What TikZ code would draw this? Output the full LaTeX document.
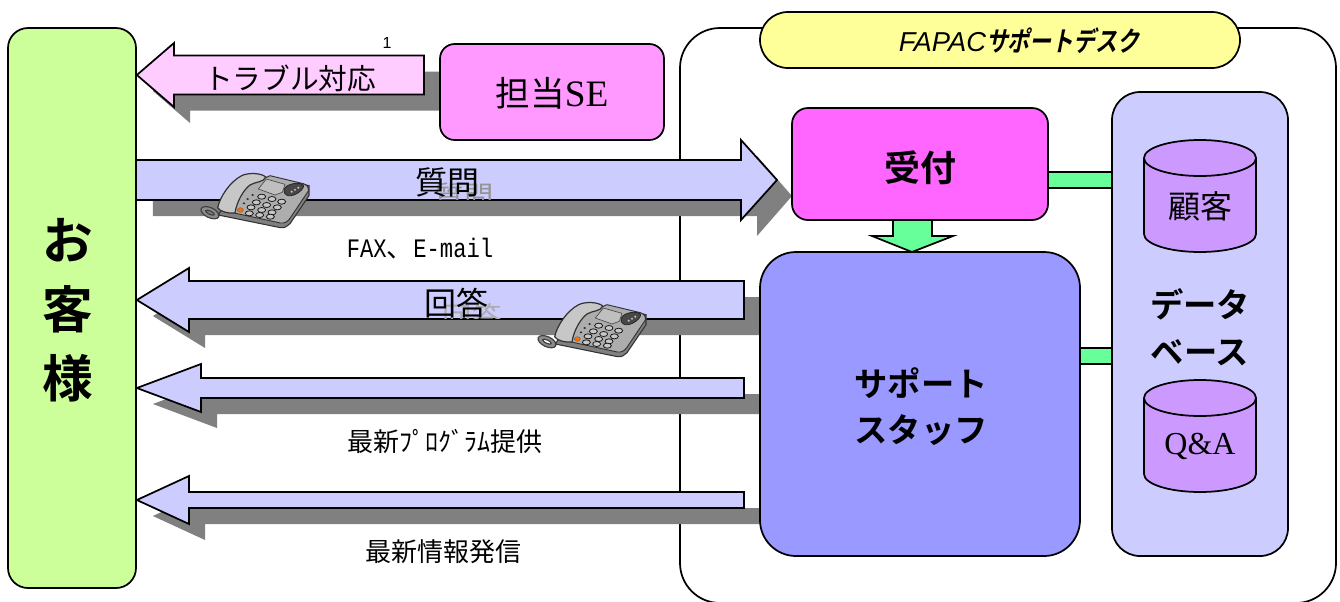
\documentclass[tikz,border=0pt]{standalone}
\usepackage{fontspec}
\usetikzlibrary{backgrounds}
\setmainfont{Liberation Serif}
\newfontfamily\jp{Noto Sans CJK JP}
\newfontfamily\jpb{Noto Sans CJK JP Bold}
\newfontfamily\jpbn[FakeStretch=0.8,FakeSlant=0.2]{Noto Sans CJK JP Bold}
\newfontfamily\hsans{Liberation Sans}
\newfontfamily\nmono[FakeStretch=0.83]{Liberation Mono}
\definecolor{shadowgray}{HTML}{808080}
\definecolor{custgreen}{HTML}{CCFF99}
\definecolor{sepink}{HTML}{FF99FF}
\definecolor{palepink}{HTML}{FFCCFF}
\definecolor{recpink}{HTML}{FF66FF}
\definecolor{lilac}{HTML}{CCCCFF}
\definecolor{staffblue}{HTML}{9999FF}
\definecolor{cylpurple}{HTML}{CC99FF}
\definecolor{bargreen}{HTML}{66FF99}
\definecolor{titleyellow}{HTML}{FFFF99}
\tikzset{
  box/.style={draw=black,line width=1.3pt,inner sep=0pt,align=center},
  blockline/.style={draw=black,line width=1.3pt,line join=miter},
  link/.style={draw=black,line width=1.2pt,double=bargreen,double distance=10.8pt},
  lab/.style={inner sep=0pt,align=center},
  phone/.pic={
    \begin{scope}[x=.25pt,y=-.25pt]
      % cord loop
      \draw[draw=black!75,fill=black!45,line width=.9pt,even odd rule,rotate around={-25:(45,143)}] (45,143) ellipse (29 and 15) (45,143) ellipse (14 and 5);
      % body
      \draw[draw=black!80,fill=black!50,line width=.8pt] (70,150) -- (256,188) .. controls (268,190) and (278,184) .. (285,176) -- (342,92) -- (342,62) -- (225,35) -- (120,70) -- cycle;
      \draw[draw=black!80,fill=black!32,line width=.7pt] (90,138) -- (256,174) .. controls (268,176) and (278,170) .. (285,160) -- (340,78) .. controls (342,66) and (335,60) .. (325,56) -- (225,32) -- (130,75) -- cycle;
      % handset
      \draw[draw=black!80,fill=black!22,line width=.9pt] (68,128) .. controls (75,95) and (105,50) .. (140,32) .. controls (160,22) and (200,24) .. (212,36) .. controls (208,52) and (180,50) .. (165,60) .. controls (145,75) and (125,110) .. (120,144) .. controls (100,146) and (75,140) .. (68,128) -- cycle;
      % dial panel
      \draw[draw=black!70,fill=black!25,line width=.5pt] (190,72) -- (214,42) -- (270,58) -- (262,82) -- (240,90) -- cycle;
      % speaker
      \draw[draw=black!85,fill=black!72,line width=.6pt] (268,72) .. controls (275,55) and (315,50) .. (325,60) .. controls (330,72) and (300,95) .. (280,92) .. controls (270,90) and (265,82) .. (268,72) -- cycle;
      \foreach \sx/\sy in {290/80,300/74,310/68}{\fill[black!25] (\sx,\sy) circle (3.5);}
      % keys
      \foreach \kx/\ky in {200/95,231/102,260/110,
                           184/112,215/120,247/127,
                           168/127,200/135,231/142,
                           163/145,194/150,226/155}{
        \draw[draw=black!90,fill=black!22,line width=.6pt] (\kx,\ky) ellipse (12 and 7.5);}
      \foreach \dx/\dy in {173/90,158/102,147/115}{\fill[black!85] (\dx,\dy) ellipse (4 and 3);}
      \draw[draw=black!60,fill=orange!85!red,line width=.3pt] (136,135) ellipse (9 and 7);
    \end{scope}
  }
}
\newcommand{\blockleft}[8]{% tip name, y, head base x, head half, shaft half, tail x, fill, shadow tail x
  \coordinate (#1) at (customer.east |- 0,#2);
  \fill[shadowgray] ([shift={(16,16)}]#1) -- ({#3+16},{#2-#4+16}) -- ({#3+16},{#2-#5+16}) -- (#8,{#2-#5+16}) -- (#8,{#2+#5+16}) -- ({#3+16},{#2+#5+16}) -- ({#3+16},{#2+#4+16}) -- cycle;
  \path[blockline,fill=#7] (#1) -- (#3,{#2-#4}) -- (#3,{#2-#5}) -- (#6,{#2-#5}) -- (#6,{#2+#5}) -- (#3,{#2+#5}) -- (#3,{#2+#4}) -- cycle;
}
\begin{document}
\begin{tikzpicture}[x=.75pt,y=-.75pt]
\useasboundingbox (0,0) rectangle (1340,601);
% main boxes
\node[box,fill=custgreen,rounded corners=15pt,minimum width=96pt,minimum height=420pt] (customer) at (72,308) {};
\node[lab,font=\fontsize{38pt}{42pt}\selectfont\jpb] (custa) at (68,240) {お};
\node[lab,font=\fontsize{38pt}{42pt}\selectfont\jpb] (custb) at (68,309) {客};
\node[lab,font=\fontsize{38pt}{42pt}\selectfont\jpb] (custc) at (68,378) {様};
\node[box,fill=sepink,rounded corners=11pt,minimum width=168pt,minimum height=72pt] (se) at (552,92) {};
\node[lab] (setext) at (552,93) {\fontsize{26pt}{30pt}\selectfont{\jp 担当}\fontsize{28pt}{30pt}\selectfont SE};
\node[box,fill=titleyellow,rounded corners=21pt,minimum width=360pt,minimum height=42pt] (title) at (1000,40) {};
\node[lab] (titletext) at (1019,41) {\fontsize{20.5pt}{24pt}\selectfont\hsans\itshape FAPAC{\jpbn サポートデスク}};
\node[box,fill=recpink,rounded corners=12pt,minimum width=192pt,minimum height=84pt] (reception) at (920,164) {};
\node[lab,font=\fontsize{27pt}{30pt}\selectfont\jpb] (rectext) at (920,168) {受付};
\node[box,fill=staffblue,rounded corners=27pt,minimum width=240pt,minimum height=228pt] (staff) at (920,404) {};
\node[lab,font=\fontsize{25pt}{34.5pt}\selectfont\jpb] (stafftext) at (921,407) {サポート\\スタッフ};
\node[box,fill=lilac,rounded corners=21pt,minimum width=132pt,minimum height=348pt] (db) at (1200,324) {};
\node[lab,font=\fontsize{25pt}{35pt}\selectfont\jpb] (dbtext) at (1200,327) {データ\\ベース};
% cylinders
\foreach \cname/\ctop/\clab in {cylcust/140/{\jp 顧客},cylqa/380/{Q\&A}}{
  \draw[line width=1.3pt,fill=cylpurple] (1144,{\ctop+18}) -- (1144,{\ctop+94}) .. controls (1144,{\ctop+104}) and (1169,{\ctop+112}) .. (1200,{\ctop+112}) .. controls (1231,{\ctop+112}) and (1256,{\ctop+104}) .. (1256,{\ctop+94}) -- (1256,{\ctop+18}) .. controls (1256,{\ctop+8}) and (1231,\ctop) .. (1200,\ctop) .. controls (1169,\ctop) and (1144,{\ctop+8}) .. (1144,{\ctop+18}) -- cycle;
  \draw[line width=1.3pt] (1144,{\ctop+18}) .. controls (1144,{\ctop+28}) and (1169,{\ctop+36}) .. (1200,{\ctop+36}) .. controls (1231,{\ctop+36}) and (1256,{\ctop+28}) .. (1256,{\ctop+18});
  \node[lab] (\cname) at (1200,{\ctop+66}) {\fontsize{24pt}{28pt}\selectfont \clab};
}
% down arrow
\draw[blockline,fill=bargreen] (912,252) -- (872,236) -- (893,236) -- (893,220) -- (932,220) -- (932,236) -- (953,236) -- cycle;
% background content
\begin{scope}[on background layer]
  \coordinate (barA) at (1080,180);
  \coordinate (barB) at (1080,356);
  \path[draw=black,line width=1.3pt,fill=white,rounded corners=30pt] (680,603) -- (680,28) -- (1336,28) -- (1336,603) -- cycle;
  \draw[link] (reception.east |- barA) -- (db.west |- barA);
  \draw[link] (staff.east |- barB) -- (db.west |- barB);
  \blockleft{ta}{75}{174}{32}{19.5}{424}{palepink}{450}
  % question arrow
  \coordinate (qs) at (customer.east |- 0,180);
  \fill[shadowgray] ([shift={(16,-4)}]qs) -- (757,176) -- (757,156) -- (792,196) -- (757,236) -- (757,216) -- ([shift={(16,36)}]qs) -- cycle;
  \path[fill=lilac] (qs |- 0,160) rectangle (741,200);
  \path[blockline,fill=lilac] (qs |- 0,160) -- (741,160) -- (741,140) -- (777,180) -- (741,220) -- (741,200) -- (qs |- 0,200);
  \begin{scope}
    \clip (420,160) rectangle (520,199.4);
    \node[lab,text=black!42,font=\fontsize{22pt}{26pt}\selectfont\jp] (qghost) at (464,196) {質問};
  \end{scope}
  \blockleft{tb}{300}{189}{32}{19}{744}{lilac}{770}
  \begin{scope}
    \clip (420,282) rectangle (530,318.4);
    \node[lab,text=black!32,font=\fontsize{22pt}{26pt}\selectfont\jp] (aghost) at (472,317) {回答};
  \end{scope}
  \blockleft{tc}{388}{201}{24}{10}{744}{lilac}{770}
  \blockleft{td}{500}{189}{24}{8}{744}{lilac}{770}
\end{scope}
% labels
\node[lab,font=\fontsize{12pt}{14pt}\selectfont\hsans] (one) at (387,43) {1};
\node[lab,font=\fontsize{21.5pt}{24pt}\selectfont\jp] (trouble) at (290,78) {トラブル対応};
\node[lab,font=\fontsize{24pt}{28pt}\selectfont\jp] (question) at (447,182) {質問};
\node[lab] (fax) at (420,249) {\fontsize{20pt}{24pt}\selectfont\nmono FAX{\jp 、}E-mail};
\node[lab,font=\fontsize{24pt}{28pt}\selectfont\jp] (answer) at (456,303) {回答};
\node[lab,font=\fontsize{19.5pt}{24pt}\selectfont\jp] (prog) at (445,441) {最新ﾌﾟﾛｸﾞﾗﾑ提供};
\node[lab,font=\fontsize{19.5pt}{24pt}\selectfont\jp] (info) at (443,552) {最新情報発信};
\pic at (195,165) {phone};
\pic at (532,294) {phone};
\end{tikzpicture}
\end{document}
